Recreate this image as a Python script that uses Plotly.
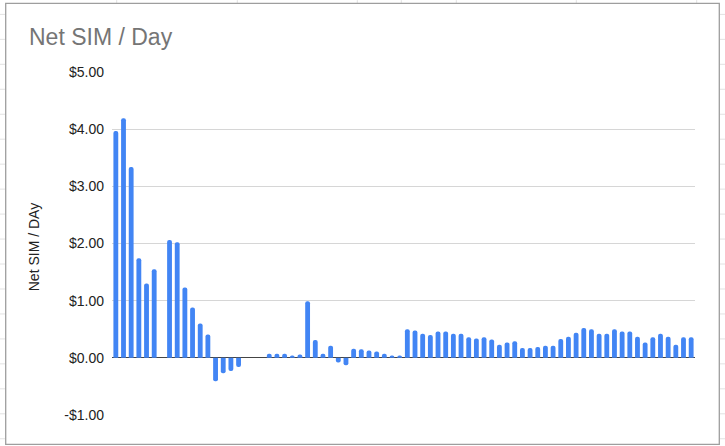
import plotly.graph_objects as go

# ---- data ----
days = list(range(1, 77))
net_sim_per_day = [
    3.97, 4.19, 3.34, 1.74, 1.30, 1.55, 0.0, 2.06, 2.02, 1.23,
    0.88, 0.60, 0.41, -0.41, -0.27, -0.23, -0.16, 0.0, 0.0, 0.0,
    0.07, 0.07, 0.07, 0.04, 0.06, 0.99, 0.31, 0.07, 0.21, -0.08,
    -0.13, 0.16, 0.15, 0.13, 0.11, 0.07, 0.04, 0.04, 0.50, 0.48,
    0.42, 0.40, 0.46, 0.46, 0.42, 0.42, 0.36, 0.34, 0.36, 0.32,
    0.23, 0.27, 0.29, 0.17, 0.17, 0.19, 0.21, 0.21, 0.33, 0.37,
    0.44, 0.52, 0.50, 0.42, 0.42, 0.50, 0.46, 0.46, 0.37, 0.27,
    0.36, 0.42, 0.37, 0.23, 0.36, 0.36,
]
tick_values = [-1, 0, 1, 2, 3, 4, 5]
tick_labels = ["-$1.00", "$0.00", "$1.00", "$2.00", "$3.00", "$4.00", "$5.00"]
title_text = "Net SIM / Day"
y_title_text = "Net SIM / DAy"

# ---- layout geometry (pixels) ----
W, H = 725, 446
ML, MR, MT, MB = 112, 30, 72, 30.5
PW = W - ML - MR
PH = H - MT - MB


def px(x):
    return (x - ML) / PW


def py(y):
    return (H - MB - y) / PH


FONT = "Liberation Sans, Arial, sans-serif"

fig = go.Figure()
fig.add_trace(go.Bar(
    x=days, y=net_sim_per_day,
    marker=dict(color="#4285F4", line=dict(width=0)),
    hoverinfo="x+y",
))

shapes = []
# spreadsheet grid behind the chart card
grid_col = "#e2e2e2"
for yy in [14.3 + 25 * k for k in range(18)]:
    shapes.append(dict(type="line", xref="paper", yref="paper",
                       x0=px(0), x1=px(5.7), y0=py(yy), y1=py(yy),
                       line=dict(color=grid_col, width=1), layer="below"))
    shapes.append(dict(type="line", xref="paper", yref="paper",
                       x0=px(719.3), x1=px(725), y0=py(yy), y1=py(yy),
                       line=dict(color=grid_col, width=1), layer="below"))
for xx in [116.7, 237.3, 357.3, 401.3, 456.3, 576.3, 696.7]:
    shapes.append(dict(type="line", xref="paper", yref="paper",
                       x0=px(xx), x1=px(xx), y0=py(0), y1=py(3.3),
                       line=dict(color=grid_col, width=1), layer="below"))
# chart card border
shapes.append(dict(type="rect", xref="paper", yref="paper",
                   x0=px(5.7), x1=px(719.3), y0=py(3.3), y1=py(445),
                   line=dict(color="#9e9e9e", width=1.3), fillcolor="rgba(0,0,0,0)",
                   layer="below"))

fig.update_layout(
    width=W, height=H,
    margin=dict(l=ML, r=MR, t=MT, b=MB, autoexpand=False),
    paper_bgcolor="white", plot_bgcolor="white",
    font=dict(family=FONT, color="#222222", size=14),
    showlegend=False,
    bargap=0.37,
    barcornerradius=2,
    title=dict(text=title_text, x=29 / W, xref="container", xanchor="left",
               y=1 - 37 / H, yref="container", yanchor="middle",
               font=dict(family=FONT, size=23, color="#757575")),
    xaxis=dict(type="category", showticklabels=False, showgrid=False,
               zeroline=False, showline=False, ticks="",
               range=[-0.5, len(days) - 0.5], fixedrange=True),
    yaxis=dict(range=[-1, 5], tickvals=tick_values, ticktext=tick_labels,
               showgrid=True, gridcolor="#d6d6d6", gridwidth=1.2,
               zeroline=True, zerolinecolor="#444444", zerolinewidth=1.3,
               showline=False, ticks="", ticklabelstandoff=7,
               tickfont=dict(family=FONT, size=14, color="#222222"),
               fixedrange=True),
    shapes=shapes,
    annotations=[dict(text=y_title_text, xref="paper", yref="paper",
                      x=px(33.5), y=py(248), xanchor="center", yanchor="middle",
                      textangle=-90, showarrow=False,
                      font=dict(family=FONT, size=14, color="#222222"))],
)

fig.write_html(
    "out.html",
    config={"displayModeBar": False},
    post_script="document.documentElement.style.margin='0';"
                "document.body.style.margin='0';"
                "document.body.style.overflow='hidden';",
)
